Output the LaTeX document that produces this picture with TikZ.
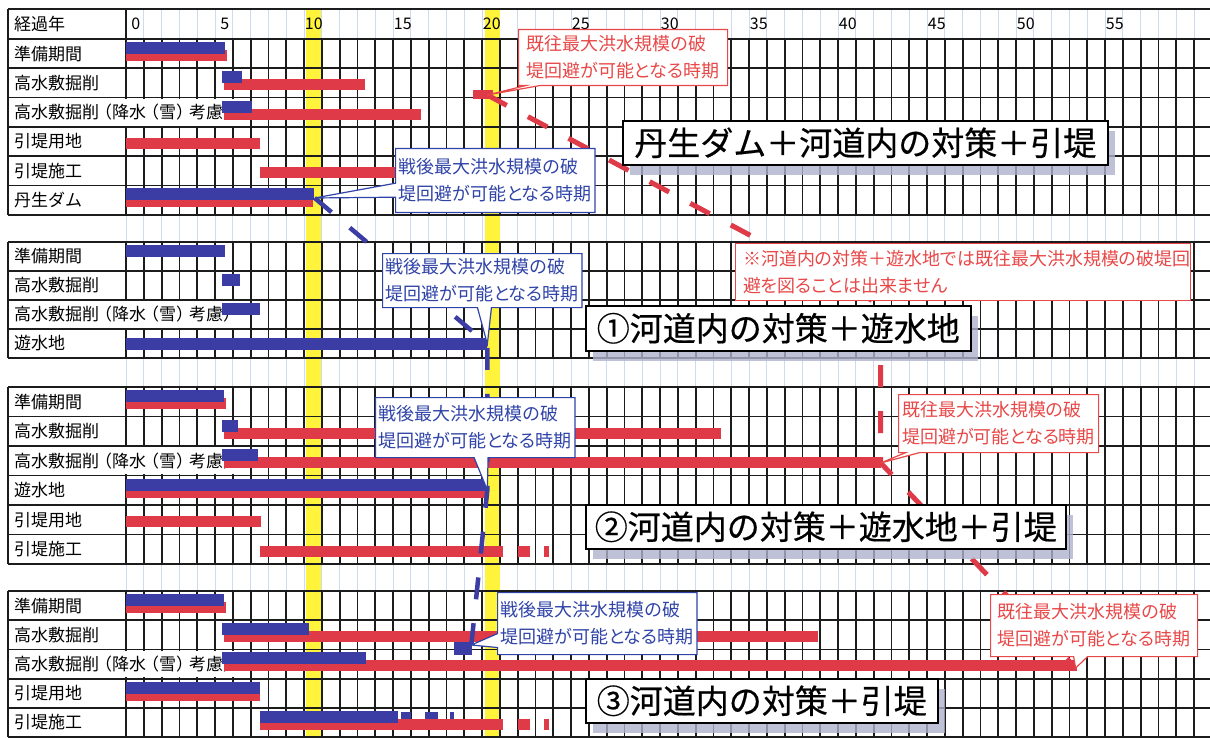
\documentclass[tikz,border=0pt]{standalone}
\usepackage{fontspec}
\setmainfont{Noto Sans CJK JP}
\newfontfamily\callfont{Noto Sans CJK JP}[RawFeature=+palt]
\newfontfamily\titlefont{Noto Sans CJK JP}[FakeBold=0.5]
\usetikzlibrary{shapes.callouts,shadows}

\definecolor{barblue}{RGB}{60,60,165}
\definecolor{barred}{RGB}{222,58,72}
\definecolor{txtred}{RGB}{232,72,72}
\definecolor{txtblue}{RGB}{48,68,168}
\definecolor{paper}{RGB}{205,218,240}
\definecolor{hilite}{RGB}{255,243,60}
\definecolor{gridline}{RGB}{28,28,28}
\definecolor{shade}{RGB}{175,178,205}

\tikzset{
  rowlabel/.style={anchor=west, inner sep=0pt, font=\fontsize{17}{17}\selectfont},
  yearlabel/.style={inner sep=0pt, font=\fontsize{16}{16}\selectfont},
  gridrule/.style={draw=gridline, line width=1.8pt},
  bluebar/.style={fill=barblue},
  redbar/.style={fill=barred},
  redcall/.style={rectangle callout, draw=txtred, text=txtred, fill=white, line width=1.2pt,
    align=left, anchor=north west, callout pointer width=14pt, font=\callfont\fontsize{18}{27}\selectfont},
  bluecall/.style={rectangle callout, draw=txtblue, text=txtblue, fill=white, line width=1.2pt,
    align=left, anchor=north west, callout pointer width=14pt, font=\callfont\fontsize{18}{27}\selectfont},
  titlebox/.style={draw=black, fill=white, line width=1.6pt, anchor=north west,
    font=\titlefont\fontsize{33}{33}\selectfont,
    drop shadow={shadow xshift=7pt, shadow yshift=-10pt, fill=shade, opacity=.8}},
  reddash/.style={draw=barred, line width=5pt, dash pattern=on 22pt off 24pt},
  bluedash/.style={draw=barblue, line width=4.5pt, dash pattern=on 22pt off 24pt},
}

\begin{document}
\begin{tikzpicture}[x=1pt, y=-1pt]
  \useasboundingbox (0,0) rectangle (1210,738);
  \fill[white] (0,0) rectangle (1210,738);

  % graph paper and the two highlighted years
  \begin{scope}[shift={(126,0)}, x=17.8pt]
    \foreach \k in {0,...,60}
      \draw[paper, line width=.8pt] (\k,9) -- (\k,738);
    \fill[hilite] (10.1,9) rectangle (10.95,738);
    \fill[hilite] (20.15,9) rectangle (21,738);
  \end{scope}

  % header row
  \draw[gridrule] (8,9) -- (1215,9);
  \draw[gridrule] (8,9) -- (8,39);
  \draw[gridrule] (126,9) -- (126,39);
  \node[rowlabel] (hdr) at (14,24) {経過年};

  % table grid of the four cases
  \foreach \top/\h/\n in {39/29.3/6, 242/29/4, 387/29.5/6, 591/29.2/5} {
    \foreach \i in {0,...,\n}
      \draw[gridrule] (8,\top+\i*\h) -- (1215,\top+\i*\h);
    \draw[gridrule] (8,\top) -- (8,\top+\n*\h);
    \begin{scope}[shift={(126,0)}, x=17.8pt]
      \foreach \k in {0,...,60}
        \draw[gridrule] (\k,\top) -- (\k,\top+\n*\h);
    \end{scope}
    % the long label runs into the first cells
    \fill[white] (125,\top+2*\h+1.3) rectangle (236,\top+3*\h-1.3);
  }

  % row labels
  \foreach \y/\txt [count=\i] in {53.65/準備期間, 82.95/高水敷掘削,
      112.25/高水敷掘削\kern-4pt（降水\kern-4pt（雪）\kern-4pt考慮）,
      141.55/引堤用地, 170.85/引堤施工, 200.15/丹生ダム}
    \node[rowlabel] (labA\i) at (14,\y) {\txt};
  \foreach \y/\txt [count=\i] in {256.5/準備期間, 285.5/高水敷掘削,
      314.5/高水敷掘削\kern-4pt（降水\kern-4pt（雪）\kern-4pt考慮）, 343.5/遊水地}
    \node[rowlabel] (labB\i) at (14,\y) {\txt};
  \foreach \y/\txt [count=\i] in {401.75/準備期間, 431.25/高水敷掘削,
      460.75/高水敷掘削\kern-4pt（降水\kern-4pt（雪）\kern-4pt考慮）,
      490.25/遊水地, 519.75/引堤用地, 549.25/引堤施工}
    \node[rowlabel] (labC\i) at (14,\y) {\txt};
  \foreach \y/\txt [count=\i] in {605.6/準備期間, 634.8/高水敷掘削,
      664/高水敷掘削\kern-4pt（降水\kern-4pt（雪）\kern-4pt考慮）,
      693.2/引堤用地, 722.4/引堤施工}
    \node[rowlabel] (labD\i) at (14,\y) {\txt};

  \begin{scope}[shift={(126,0)}, x=17.8pt]
    \foreach \n in {0,5,...,55}
      \node[yearlabel] (yr\n) at (\n+0.55,24) {\n};

    % red bars: row top / start / end (years)
    \foreach \t/\a/\b in {39/0/5.7, 68.3/5.5/13.4, 97.6/5.5/16.6, 126.9/0/7.5, 156.2/7.5/21, 185.5/0/10.5,
        387/0/5.6, 416.5/5.5/33.4, 446/5.5/42.4, 475.5/0/20.3, 505/0/7.6,
        534.5/7.5/21.2, 534.5/22/22.7, 534.5/23.5/23.75,
        591/0/5.6, 620.2/5.5/38.9, 649.4/5.5/53.4, 678.6/0/7.5,
        707.8/7.5/21.2, 707.8/22/22.7, 707.8/23.5/23.75}
      \fill[redbar] (\a,\t+11) rectangle (\b,\t+22);

    % blue bars
    \foreach \t/\a/\b in {39/0/5.55, 68.3/5.4/6.5, 97.6/5.4/7.1, 185.5/0/10.55,
        242/0/5.55, 271/5.4/6.4, 300/5.4/7.5,
        387/0/5.5, 416.5/5.4/6.3, 446/5.4/7.4, 475.5/0/20.3,
        591/0/5.5, 620.2/5.4/10.3, 649.4/5.4/13.5, 678.6/0/7.5, 707.8/7.5/15.3}
      \fill[bluebar] (\a,\t+3) rectangle (\b,\t+15);
    \fill[bluebar] (0,338) rectangle (20.3,350);
    \foreach \a/\b in {15.45/16, 16.8/17.5, 18.2/18.4}
      \fill[bluebar] (\a,712) rectangle (\b,719);

    % points where the breach can be avoided
    \coordinate (rA) at (20.3,95);
    \coordinate (rBend) at (42.4,305);
    \coordinate (rC) at (42.4,463);
    \coordinate (rD) at (53.35,668);
    \coordinate (bA) at (10.6,198);
    \coordinate (bB) at (20.3,344);
    \coordinate (bC) at (20.3,490);
    \coordinate (bD) at (19.4,645);

    \draw[reddash] (rA) -- (rBend) -- (rC) -- (rD);
    \draw[bluedash] (bA) -- (bB) -- (bC) -- (bD);
    \fill[redbar] (19.5,90) rectangle (20.6,99);
    \fill[bluebar] (18.4,642) rectangle (19.45,655);
  \end{scope}

  % case titles
  \node[titlebox, minimum width=485pt, minimum height=44pt] (titleA) at (622,120) {丹生ダム＋河道内の対策＋引堤};
  \node[titlebox, minimum width=385pt, minimum height=45pt] (titleB) at (585,305) {①河道内の対策＋遊水地};
  \node[titlebox, minimum width=480pt, minimum height=44pt] (titleC) at (585,504) {②河道内の対策＋遊水地＋引堤};
  \node[titlebox, minimum width=352pt, minimum height=44pt] (titleD) at (585,678) {③河道内の対策＋引堤};

  % callouts
  \node[redcall, minimum width=209pt, minimum height=56pt, callout absolute pointer={(rA)}] (redA) at (518,29)
    {既往最大洪水規模の破\\堤回避が可能となる時期};
  \node[redcall, minimum width=200pt, minimum height=58pt, callout absolute pointer={(rC)}] (redC) at (898,394)
    {既往最大洪水規模の破\\堤回避が可能となる時期};
  \node[redcall, minimum width=207pt, minimum height=62pt, callout absolute pointer={(rD)}] (redD) at (990,594)
    {既往最大洪水規模の破\\堤回避が可能となる時期};
  \node[bluecall, minimum width=195pt, minimum height=64pt, callout absolute pointer={(bA)}] (blueA) at (395,148)
    {戦後最大洪水規模の破\\堤回避が可能となる時期};
  \node[bluecall, minimum width=198pt, minimum height=54pt, callout absolute pointer={(bB)}] (blueB) at (382,253)
    {戦後最大洪水規模の破\\堤回避が可能となる時期};
  \node[bluecall, minimum width=198pt, minimum height=60pt, callout absolute pointer={(bC)}] (blueC) at (375,397)
    {戦後最大洪水規模の破\\堤回避が可能となる時期};
  \node[bluecall, minimum width=193pt, minimum height=62pt, callout absolute pointer={(bD)}] (blueD) at (497,592)
    {戦後最大洪水規模の破\\堤回避が可能となる時期};

  \node[draw=txtred, text=txtred, fill=white, line width=1.2pt, anchor=north west, align=left,
    minimum width=455pt, minimum height=57pt, text width=440pt, font=\callfont\fontsize{18}{27}\selectfont] (note) at (735,243)
    {※河道内の対策＋遊水地では既往最大洪水規模の破堤回\\避を図ることは出来ません};
\end{tikzpicture}
\end{document}
